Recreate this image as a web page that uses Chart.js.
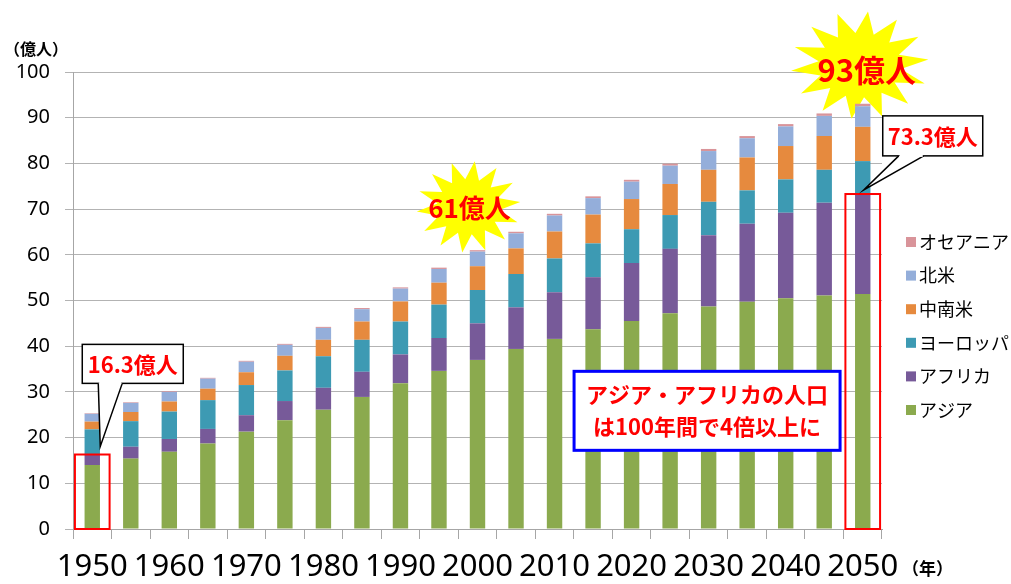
<!DOCTYPE html>
<html>
<head>
<meta charset="utf-8">
<script src="https://cdn.jsdelivr.net/npm/chart.js@4.4.1/dist/chart.umd.min.js"></script>
<style>
  html, body { margin: 0; padding: 0; background: #fff; }
</style>
</head>
<body>
<canvas id="popChart" width="1011" height="584"></canvas>
<script>
const years = ['1950','1955','1960','1965','1970','1975','1980','1985','1990','1995','2000',
               '2005','2010','2015','2020','2025','2030','2035','2040','2045','2050'];

// 億人
const asia    = [14.0,15.4,16.9,18.7,21.3,23.8,26.1,28.9,31.9,34.6,37.0,39.4,41.6,43.7,45.5,47.2,48.7,49.7,50.5,51.1,51.4];
const africa  = [2.3,2.6,2.8,3.2,3.6,4.2,4.8,5.5,6.3,7.2,8.0,9.1,10.2,11.4,12.7,14.1,15.6,17.1,18.7,20.3,21.9];
const europe  = [5.5,5.6,6.0,6.3,6.6,6.7,6.9,7.0,7.2,7.3,7.3,7.3,7.4,7.4,7.4,7.4,7.3,7.3,7.3,7.2,7.2];
const latinAm = [1.7,2.0,2.2,2.5,2.8,3.2,3.6,4.0,4.4,4.8,5.2,5.6,5.9,6.3,6.6,6.8,7.0,7.2,7.3,7.4,7.5];
const northAm = [1.7,2.0,2.1,2.2,2.3,2.4,2.6,2.7,2.8,3.0,3.2,3.3,3.5,3.6,3.8,4.0,4.1,4.2,4.3,4.4,4.5];
const oceania = [0.13,0.14,0.16,0.18,0.2,0.21,0.23,0.25,0.27,0.29,0.31,0.34,0.37,0.39,0.41,0.44,0.46,0.48,0.5,0.53,0.55];

const JP = '"Noto Sans CJK JP", "Noto Sans", sans-serif';

function star(ctx, cx, cy, rx, ry, points) {
    ctx.beginPath();
    for (let i = 0; i < points * 2; i++) {
        const a = -Math.PI / 2 + 0.12 + i * Math.PI / points;
        const k = i % 2 === 0 ? 1 : 0.6;
        ctx.lineTo(cx + Math.cos(a) * rx * k, cy + Math.sin(a) * ry * k);
    }
    ctx.closePath();
    ctx.fillStyle = '#ffff00';
    ctx.fill();
}

function callout(ctx, bx, by, bw, bh, t1, t2, tip, text) {
    ctx.save();
    ctx.fillStyle = '#fff';
    ctx.strokeStyle = '#000';
    ctx.lineWidth = 1.5;
    ctx.fillRect(bx, by, bw, bh);
    ctx.strokeRect(bx, by, bw, bh);
    ctx.beginPath();
    ctx.moveTo(t1, by + bh);
    ctx.lineTo(tip.x, tip.y);
    ctx.lineTo(t2, by + bh);
    ctx.closePath();
    ctx.fill();
    ctx.beginPath();
    ctx.moveTo(t1, by + bh);
    ctx.lineTo(tip.x, tip.y);
    ctx.lineTo(t2, by + bh);
    ctx.stroke();
    ctx.fillStyle = '#fff';
    ctx.fillRect(t1 + 1, by + bh - 2, t2 - t1 - 2, 3);
    ctx.fillStyle = '#ff0000';
    ctx.font = 'bold 22px ' + JP;
    ctx.textAlign = 'center';
    ctx.textBaseline = 'middle';
    ctx.fillText(text, bx + bw / 2, by + bh / 2 + 1);
    ctx.restore();
}

// starbursts sit behind the bars
const bursts = {
    id: 'bursts',
    beforeDatasetsDraw(chart) {
        const { ctx, scales: { x, y } } = chart;
        const last = years.length - 1;
        ctx.save();
        star(ctx, x.getPixelForValue(10) - 9, y.getPixelForValue(70.5), 52, 46, 14);
        star(ctx, x.getPixelForValue(last) - 3, y.getPixelForValue(101.5), 69, 54, 14);
        ctx.fillStyle = '#ff0000';
        ctx.textAlign = 'center';
        ctx.textBaseline = 'middle';
        ctx.font = 'bold 26px ' + JP;
        ctx.fillText('61億人', x.getPixelForValue(10) - 8, y.getPixelForValue(70.5) + 1);
        ctx.font = 'bold 31px ' + JP;
        ctx.fillText('93億人', x.getPixelForValue(last) + 4, y.getPixelForValue(101.5) + 5);
        ctx.restore();
    }
};

const annotate = {
    id: 'annotate',
    afterDraw(chart) {
        const { ctx, scales: { x, y } } = chart;
        const half = (x.getPixelForValue(1) - x.getPixelForValue(0)) * 0.45;
        const last = years.length - 1;
        const first = asia[0] + africa[0];
        const end = asia[last] + africa[last];

        ctx.save();
        // red frames (Asia + Africa)
        ctx.strokeStyle = '#ff0000';
        ctx.lineWidth = 2;
        [[0, first], [last, end]].forEach(([i, v]) => {
            const cx = x.getPixelForValue(i);
            ctx.strokeRect(cx - half, y.getPixelForValue(v), half * 2, y.getPixelForValue(0) - y.getPixelForValue(v));
        });

        // callouts
        const x0 = x.getPixelForValue(0);
        callout(ctx, x0 - 10, y.getPixelForValue(40.4), 101, 39, x0 + 6, x0 + 30,
            { x: x0 + 8, y: y.getPixelForValue(first) - 8 }, first.toFixed(1) + '億人');
        const xl = x.getPixelForValue(last);
        callout(ctx, xl + 20, y.getPixelForValue(90.4), 100, 40, xl + 36, xl + 61,
            { x: xl + 1, y: y.getPixelForValue(end) - 4 }, end.toFixed(1) + '億人');

        // message box
        const bx = x.getPixelForValue(13) - 19, by = y.getPixelForValue(34.5);
        ctx.fillStyle = '#fff';
        ctx.fillRect(bx, by, 266, 79);
        ctx.strokeStyle = '#0000ff';
        ctx.lineWidth = 3;
        ctx.strokeRect(bx, by, 266, 79);
        ctx.fillStyle = '#ff0000';
        ctx.textAlign = 'center';
        ctx.textBaseline = 'middle';
        ctx.font = 'bold 22px ' + JP;
        ctx.fillText('アジア・アフリカの人口', bx + 133, by + 23);
        ctx.fillText('は100年間で4倍以上に', bx + 133, by + 55);

        // units
        ctx.fillStyle = '#000';
        ctx.textAlign = 'left';
        ctx.font = 'bold 16px ' + JP;
        ctx.fillText('（億人）', 4, 49);
        ctx.font = 'bold 17px ' + JP;
        ctx.fillText('（年）', 902, 569);

        // legend, top item = last series
        ctx.font = '18px ' + JP;
        chart.data.datasets.slice().reverse().forEach((ds, i) => {
            const ly = 242 + i * 33.6;
            ctx.fillStyle = ds.backgroundColor;
            ctx.fillRect(906, ly - 5, 10, 10);
            ctx.fillStyle = '#000';
            ctx.fillText(ds.label, 919, ly);
        });
        ctx.restore();
    }
};

new Chart(document.getElementById('popChart'), {
    type: 'bar',
    data: {
        labels: years,
        datasets: [
            { label: 'アジア', data: asia, backgroundColor: '#8BAA4E' },
            { label: 'アフリカ', data: africa, backgroundColor: '#775A99' },
            { label: 'ヨーロッパ', data: europe, backgroundColor: '#3D9AB3' },
            { label: '中南米', data: latinAm, backgroundColor: '#E68A3E' },
            { label: '北米', data: northAm, backgroundColor: '#94AEDA' },
            { label: 'オセアニア', data: oceania, backgroundColor: '#D9949A' }
        ]
    },
    options: {
        responsive: false,
        animation: false,
        devicePixelRatio: 1,
        datasets: { bar: { categoryPercentage: 1, barPercentage: 0.4 } },
        layout: { padding: { top: 72, right: 129, left: 0, bottom: 0 } },
        plugins: { legend: { display: false }, tooltip: { enabled: false } },
        scales: {
            x: {
                stacked: true,
                grid: { offset: true, drawOnChartArea: false, tickLength: 10, color: '#a6a6a6' },
                border: { color: '#a6a6a6' },
                ticks: {
                    autoSkip: false, maxRotation: 0, padding: 10, color: '#000',
                    font: { size: 31, family: '"Noto Sans", sans-serif' },
                    callback: (v, i) => i % 2 === 0 ? years[i] : ''
                },
                afterFit: s => { s.height = 55; }
            },
            y: {
                stacked: true, min: 0, max: 100,
                grid: { color: '#b3b3b3', tickLength: 8 },
                border: { color: '#a6a6a6' },
                ticks: { stepSize: 10, padding: 15, color: '#000', font: { size: 20, family: '"Noto Sans", sans-serif' } },
                afterFit: s => { s.width = 73; }
            }
        }
    },
    plugins: [bursts, annotate]
});
</script>
</body>
</html>
